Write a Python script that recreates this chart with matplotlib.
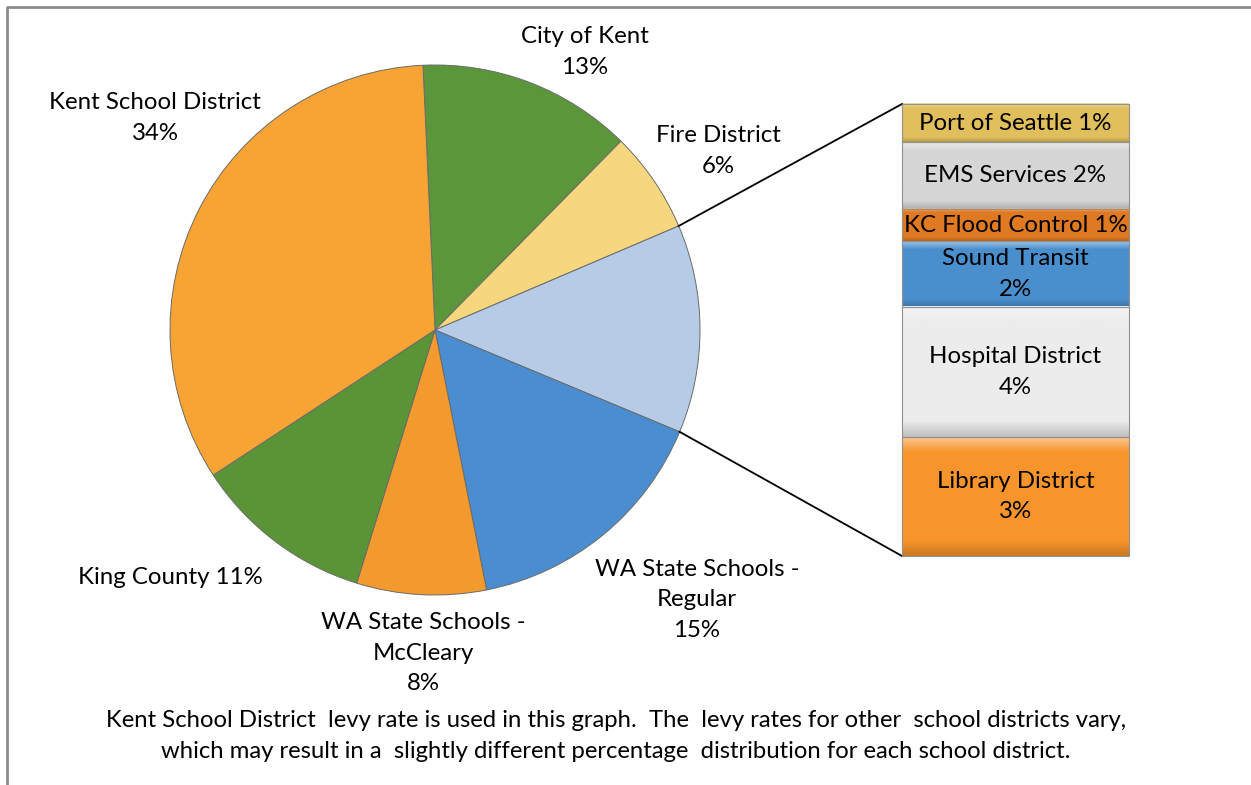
import numpy as np
import matplotlib
matplotlib.use('Agg')
import matplotlib.pyplot as plt
from matplotlib.colors import to_rgb

plt.rcParams['font.family'] = ['Lato', 'DejaVu Sans']

# main pie (percent of levy), clockwise from 12 o'clock
pie_labels = ['City of Kent\n13%', 'Fire District\n6%', '', 'WA State Schools -\nRegular\n15%',
              'WA State Schools -\nMcCleary\n8%', 'King County 11%', 'Kent School District\n34%']
pie_vals = [13.1, 6.2, 12.7, 15.6, 7.9, 11.0, 33.5]
pie_colors = ['#5b973a', '#f6d77e', '#b5cbe6', '#4a8dd0', '#f29a2e', '#5a9437', '#f8a435']

# breakout bar (the "other" slice), top to bottom
bar_labels = ['Port of Seattle 1%', 'EMS Services 2%', 'KC Flood Control 1%',
              'Sound Transit\n2%', 'Hospital District\n4%', 'Library District\n3%']
bar_vals = [1.07, 1.88, 0.90, 1.85, 3.65, 3.34]
bar_colors = ['#e0bf5c', '#d6d6d6', '#e07a22', '#4a8fcd', '#ececec', '#f7952c']

caption = ('Kent School District  levy rate is used in this graph.  The  levy rates for other  school districts vary,\n'
           'which may result in a  slightly different percentage  distribution for each school district.')

W, H = 1251, 785
FS = 17.3
LS = 1.55
def py(y):
    return H - y

def shade(c, t):
    # t>0 lighten toward white, t<0 darken
    c = np.array(to_rgb(c))
    return c + (1 - c) * t if t > 0 else c * (1 + t)

fig = plt.figure(figsize=(W / 100, H / 100), dpi=100)
ax = fig.add_axes([0, 0, 1, 1])

cx, cy, r = 435, py(330), 265
wedges, _ = ax.pie(pie_vals, colors=pie_colors, startangle=92.6, counterclock=False,
                   center=(cx, cy), radius=r,
                   wedgeprops=dict(edgecolor='#6a6a6a', linewidth=0.7))

# stacked breakout bar with a bevel-like vertical gradient
bx, bw = 1015.5, 227
btop, bheight = py(104), 452
scale = bheight / sum(bar_vals)
h = np.array(bar_vals) * scale
bottoms = btop - np.cumsum(h)
for b, hh, c in zip(bottoms, h, bar_colors):
    n = 60
    t = np.linspace(0, 1, n)  # 0 = top, 1 = bottom
    amt = np.where(t < 0.12, 0.45 * (1 - t / 0.12), 0.0)
    amt = np.where(t > 0.88, -0.18 * (t - 0.88) / 0.12, amt)
    grad = np.array([shade(c, a) for a in amt])[:, None, :]
    ax.imshow(grad, extent=[bx - bw / 2, bx + bw / 2, b, b + hh], aspect='auto',
              interpolation='bilinear', zorder=2)
ax.bar([bx] * len(h), h, width=bw, bottom=bottoms, facecolor='none',
       edgecolor='#909090', linewidth=0.8, zorder=3)
for lab, b, hh in zip(bar_labels, bottoms, h):
    ax.text(bx, b + hh / 2, lab, ha='center', va='center', fontsize=FS,
            linespacing=LS, zorder=4)

# connector lines from the "other" slice to the bar
other = wedges[2]
a_hi, a_lo = np.deg2rad(other.theta2), np.deg2rad(other.theta1)
ax.plot([cx + r * np.cos(a_hi), bx - bw / 2], [cy + r * np.sin(a_hi), btop], color='black', lw=1.3)
ax.plot([cx + r * np.cos(a_lo), bx - bw / 2], [cy + r * np.sin(a_lo), btop - bheight], color='black', lw=1.3)

# pie labels
label_pos = [(585, 52), (718, 151), None, (697, 600), (423, 653), (170, 578), (155, 118)]
for lab, pos in zip(pie_labels, label_pos):
    if pos is None:
        continue
    ax.text(pos[0], py(pos[1]), lab, ha='center', va='center', fontsize=FS, linespacing=LS)

ax.text(616, py(736), caption, ha='center', va='center', fontsize=17.2, linespacing=LS)

# frame (only left and top visible)
ax.plot([7, 7, W + 5], [-5, py(7), py(7)], color='#8c8c8c', lw=2)

ax.set_xlim(0, W)
ax.set_ylim(0, H)
ax.set_aspect('equal')
ax.axis('off')

fig.savefig('out.png', dpi=100)
